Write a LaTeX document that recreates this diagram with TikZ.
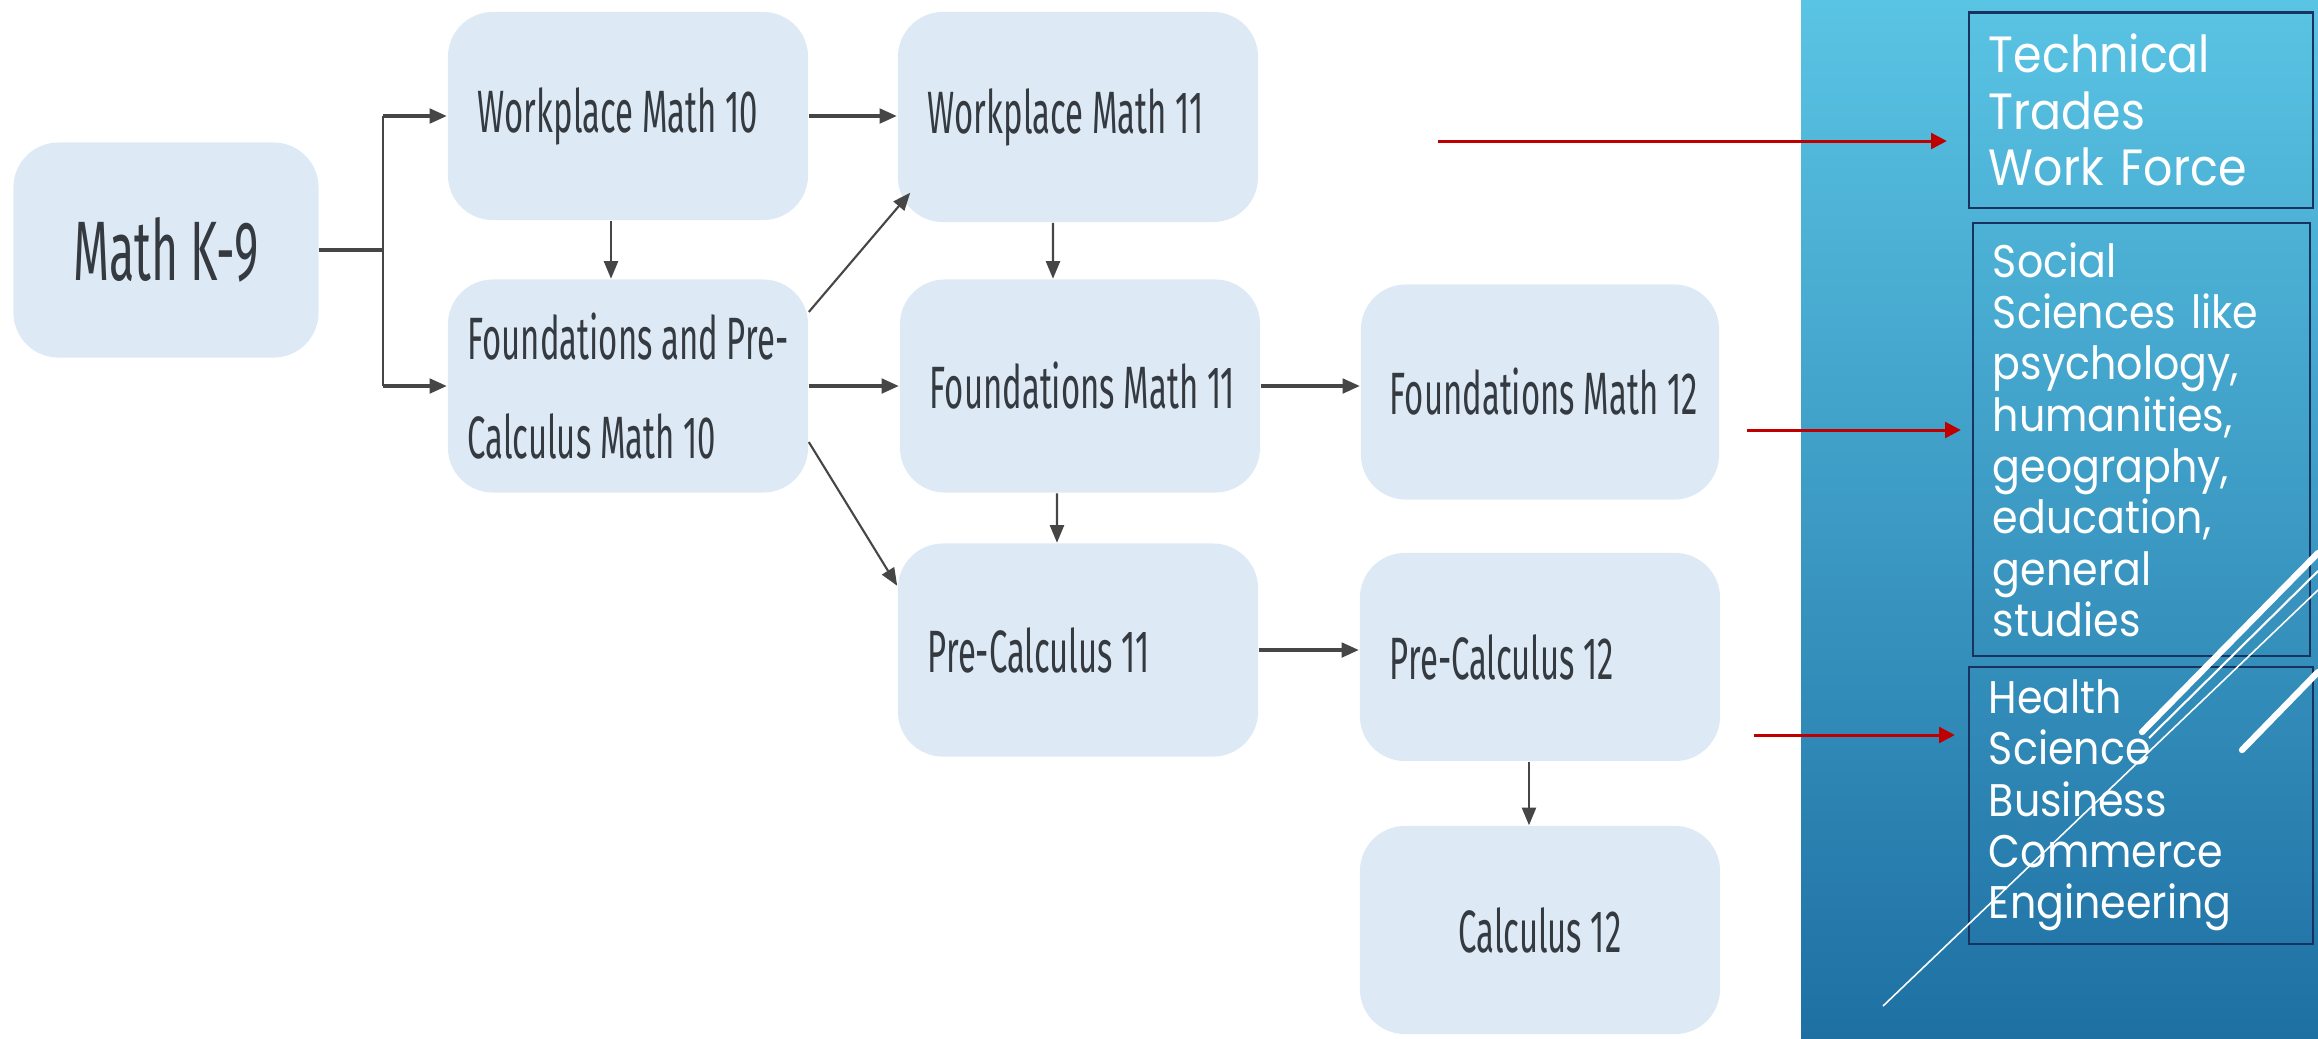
\documentclass[tikz,border=0pt]{standalone}
\usepackage{fontspec}
\usetikzlibrary{arrows.meta}
\newfontfamily\coursefont[FakeStretch=0.55]{Fira Sans}
\newfontfamily\panelfont[FakeStretch=0.9]{Poppins}
\newcommand{\lefted}[1]{\makebox[3cm][l]{#1}}
\definecolor{coursefill}{RGB}{221,234,246}
\definecolor{coursetext}{RGB}{52,58,64}
\definecolor{linkgray}{RGB}{70,70,70}
\definecolor{paneltop}{RGB}{90,196,228}
\definecolor{panelbottom}{RGB}{30,112,163}
\definecolor{boxline}{RGB}{25,50,95}
\definecolor{pathred}{RGB}{192,0,0}
\tikzset{
  course/.style={fill=coursefill,rounded corners=0.45cm,inner sep=0pt,minimum width=3.6cm,minimum height=2.1cm,
    text=coursetext,font=\coursefont\fontsize{17}{28}\selectfont},
  link/.style={draw=linkgray,line width=0.6pt,-{Triangle[length=5pt,width=4pt]}},
  thicklink/.style={link,line width=1.3pt},
  outcome/.style={draw=boxline,line width=0.6pt,text=white,align=left,inner xsep=0.2cm,
    font=\panelfont\fontsize{13}{14.6}\selectfont},
  redarrow/.style={draw=pathred,line width=0.85pt,-{Triangle[length=4.5pt,width=4.5pt]}}
}
\begin{document}
\begin{tikzpicture}[x=0.01cm,y=-0.01cm,>=stealth]
        \useasboundingbox (0,0) rectangle (2318,1038);
        \shade[top color=paneltop,bottom color=panelbottom] (1801,0) rectangle (2318,1038);
        % courses
        \node[course,minimum width=3.05cm,minimum height=2.15cm,font=\coursefont\fontsize{24}{28}\selectfont] (k9) at (166,250) {Math K-9};
        \node[course,minimum height=2.08cm] (wm10) at (628,116) {\lefted{Workplace Math 10}};
        \node[course,minimum height=2.13cm,align=left] (fpc10) at (628,386) {Foundations and Pre-\\Calculus Math 10};
        \node[course] (wm11) at (1078,117) {\lefted{Workplace Math 11}};
        \node[course,minimum height=2.13cm] (fm11) at (1080,386) {\lefted{Foundations Math 11}};
        \node[course,minimum width=3.58cm,minimum height=2.15cm] (fm12) at (1540,392) {\lefted{Foundations Math 12}};
        \node[course,minimum height=2.13cm] (pc11) at (1078,650) {\lefted{Pre-Calculus 11}};
        \node[course,minimum height=2.08cm] (pc12) at (1540,657) {\lefted{Pre-Calculus 12}};
        \node[course,minimum height=2.08cm] (calc12) at (1540,930) {Calculus 12};
        \coordinate (fork) at (383,250);
        \draw[linkgray,line width=1.3pt] (k9.east)--(fork);
        \draw[linkgray,line width=0.6pt] (fork |- wm10.west)--(fork |- fpc10.west);
        \draw[thicklink] (fork |- wm10.west)--(wm10.west);
        \draw[thicklink] (fork |- fpc10.west)--(fpc10.west);
        \draw[link] ([xshift=-0.17cm]wm10.south)--([xshift=-0.17cm]fpc10.north);
        \draw[thicklink] (wm10.east)--(wm10.east -| wm11.west);
        \draw[link] ([yshift=0.74cm]fpc10.east)--([shift={(0.13cm,0.3cm)}]wm11.south west);
        \draw[thicklink] (fpc10.east)--(fpc10.east -| fm11.west);
        \draw[link] ([yshift=-0.56cm]fpc10.east)--([yshift=-0.43cm]pc11.north west);
        \draw[link] ([xshift=-0.25cm]wm11.south)--([xshift=-0.27cm]fm11.north);
        \draw[thicklink] (fm11.east)--(fm11.east -| fm12.west);
        \draw[link] ([xshift=-0.23cm]fm11.south)--([xshift=-0.21cm]pc11.north);
        \draw[thicklink] (pc11.east)--(pc11.east -| pc12.west);
        \draw[link] ([xshift=-0.11cm]pc12.south)--([xshift=-0.11cm]calc12.north);
        % outcomes
        \node[outcome,text width=3.04cm,minimum height=1.95cm,font=\panelfont\fontsize{14.5}{16}\selectfont] (trades) at (2141,110) {Technical\\Trades\\Work Force};
        \node[outcome,text width=2.97cm,minimum height=4.33cm] (social) at (2141.5,439.5) {Social\\Sciences like\\psychology,\\humanities,\\geography,\\education,\\general\\studies};
        \node[outcome,text width=3.04cm,minimum height=2.77cm] (health) at (2141,805.5) {Health\\Science\\Business\\Commerce\\Engineering};
        \coordinate (r1) at (1438,141);
        \coordinate (r2) at (1747,430);
        \coordinate (r3) at (1754,735);
        \draw[redarrow,shorten >=0.21cm] (r1)--(r1 -| trades.west);
        \draw[redarrow,shorten >=0.11cm] (r2)--(r2 -| social.west);
        \draw[redarrow,shorten >=0.13cm] (r3)--(r3 -| health.west);
        \draw[white,line width=1.8pt,line cap=round] (2142,732)--(2318,553);
        \draw[white,line width=0.6pt] (2149,738)--(2318,571);
        \draw[white,line width=0.45pt] (1883,1006)--(2318,590);
        \draw[white,line width=1.8pt,line cap=round] (2242,750)--(2318,672);
      \end{tikzpicture}
\end{document}
